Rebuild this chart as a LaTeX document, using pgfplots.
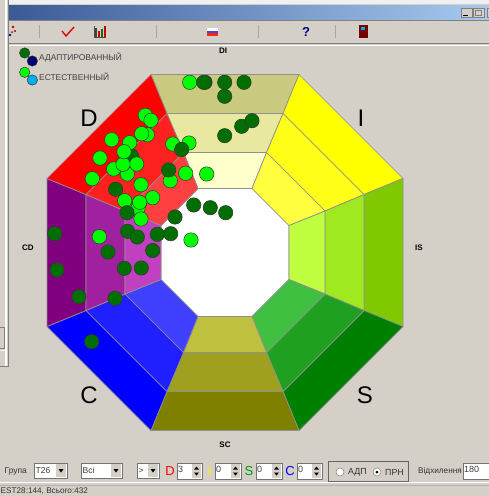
\documentclass[border=0pt]{standalone}
\usepackage{pgfplots}
\pgfplotsset{compat=1.18}
\usepackage{fontspec}
\setmainfont{Liberation Sans}
\definecolor{win}{HTML}{D4D0C8}
\definecolor{edge}{HTML}{909090}
\definecolor{dk}{HTML}{006E00}
\definecolor{br}{HTML}{00FF00}
\definecolor{tbA}{HTML}{3A5A96}
\definecolor{tbB}{HTML}{A6CAF0}
\definecolor{aO}{HTML}{C9C97F}\definecolor{aM}{HTML}{E8E8A0}\definecolor{aI}{HTML}{FFFFCC}
\definecolor{bO}{HTML}{FFFF00}\definecolor{bM}{HTML}{FFFF18}\definecolor{bI}{HTML}{FFFF40}
\definecolor{cO}{HTML}{80C800}\definecolor{cM}{HTML}{A0E820}\definecolor{cI}{HTML}{BFFF40}
\definecolor{dO}{HTML}{008000}\definecolor{dM}{HTML}{20A020}\definecolor{dI}{HTML}{40C040}
\definecolor{eO}{HTML}{808000}\definecolor{eM}{HTML}{A0A020}\definecolor{eI}{HTML}{C0C040}
\definecolor{fO}{HTML}{0000FF}\definecolor{fM}{HTML}{2020FF}\definecolor{fI}{HTML}{4040FF}
\definecolor{gO}{HTML}{800080}\definecolor{gM}{HTML}{A020A0}\definecolor{gI}{HTML}{C040C0}
\definecolor{hO}{HTML}{FF0000}\definecolor{hM}{HTML}{FF2020}\definecolor{hI}{HTML}{FF4040}
\newcommand\cell[2]{\addplot[fill=#1,draw=edge,line width=0.7pt] coordinates {#2} -- cycle;}
\newcommand\fs[1]{\fontsize{#1}{#1}\selectfont}
\newcommand\ctrl[5]{%
  \fill[white] (axis cs:#1,#2) rectangle (axis cs:#3,#4);
  \draw[black!55,line width=0.8pt] (axis cs:#1,#2) rectangle (axis cs:#3,#4);
  \node[anchor=west,inner sep=0pt,text=black!75] at (axis cs:#1+1.5,#2+7.5) {\fs{8.6}#5};
  \fill[win] (axis cs:#3-11,#2+1) rectangle (axis cs:#3-1,#4-1);
  \fill[black] (axis cs:#3-8.5,#2+6) -- (axis cs:#3-3.5,#2+6) -- (axis cs:#3-6,#2+9.5) -- cycle;
}
\newcommand\spin[5]{%
  \fill[white] (axis cs:#1,#2) rectangle (axis cs:#3,#4);
  \draw[black!55,line width=0.8pt] (axis cs:#1,#2) rectangle (axis cs:#3,#4);
  \node[anchor=west,inner sep=0pt,text=black!75] at (axis cs:#1+1,#2+6) {\fs{9}#5};
  \fill[win] (axis cs:#3-10,#2+1) rectangle (axis cs:#3-1,#4-1);
  \fill[black] (axis cs:#3-8,#2+6.5) -- (axis cs:#3-3,#2+6.5) -- (axis cs:#3-5.5,#2+3.5) -- cycle;
  \fill[black] (axis cs:#3-8,#2+9.5) -- (axis cs:#3-3,#2+9.5) -- (axis cs:#3-5.5,#2+12.5) -- cycle;
}
\begin{document}
\begin{tikzpicture}
\begin{axis}[width=489pt,height=496pt,scale only axis,xmin=0,xmax=489,ymin=0,ymax=496,y dir=reverse,axis lines=none,clip=true,
  mk/.style={only marks,mark=*,mark size=7.2pt,mark options={draw=black!80,line width=0.5pt,fill=#1}}]
% window chrome
\fill[win] (axis cs:0,0) rectangle (axis cs:489,496);
\fill[white!94!black] (axis cs:8,0) rectangle (axis cs:489,4);
\fill[left color=tbA,right color=tbB] (axis cs:8,5) rectangle (axis cs:489,19);
\draw[gray,line width=0.8pt] (axis cs:8,20) -- (axis cs:489,20);
\draw[gray,line width=0.8pt] (axis cs:8,43) -- (axis cs:489,43);
\draw[white,line width=0.7pt] (axis cs:8,45) -- (axis cs:489,45);
\draw[gray!70,line width=0.7pt] (axis cs:39,25) -- (axis cs:39,38);
\draw[gray!70,line width=0.7pt] (axis cs:156,25) -- (axis cs:156,38);
\draw[gray!70,line width=0.7pt] (axis cs:258,25) -- (axis cs:258,38);
\draw[gray!70,line width=0.7pt] (axis cs:335,25) -- (axis cs:335,38);
% left panel
\draw[white,line width=1.4pt] (axis cs:6,0) -- (axis cs:6,366);
\draw[gray,line width=1pt] (axis cs:8.5,0) -- (axis cs:8.5,366) -- (axis cs:0,366);
\draw[gray,line width=0.7pt] (axis cs:0,327) -- (axis cs:4,327) -- (axis cs:4,348) -- (axis cs:0,348);
\draw[white,line width=0.7pt] (axis cs:0,350) -- (axis cs:6,350);
% window buttons
\fill[win] (axis cs:461,8) rectangle (axis cs:472,17);
\draw[gray,line width=0.6pt] (axis cs:461,8) rectangle (axis cs:472,17);
\fill[win] (axis cs:473,8) rectangle (axis cs:484,17);
\draw[gray,line width=0.6pt] (axis cs:473,8) rectangle (axis cs:484,17);
\fill[win] (axis cs:487,8) rectangle (axis cs:498,17);
\draw[gray,line width=0.6pt] (axis cs:487,8) rectangle (axis cs:498,17);
\draw[black,line width=1pt] (axis cs:463,15) -- (axis cs:468,15);
\draw[gray,line width=0.8pt] (axis cs:475.5,10) rectangle (axis cs:481.5,15.5);
% toolbar icons
\draw[red!90!black,line width=1.4pt] (axis cs:62,31) -- (axis cs:66,36) -- (axis cs:74,27);
\fill[red!70!black] (axis cs:13,27) circle[radius=1.3pt];
\fill[blue!70!black] (axis cs:10,35) circle[radius=1.3pt];
\fill[red!70!black] (axis cs:15,31) circle[radius=1.1pt];
\fill[red!70!black] (axis cs:12,32) circle[radius=1pt];
\fill[black!75] (axis cs:95,28) rectangle (axis cs:97,37);
\fill[red!80!black] (axis cs:98,31) rectangle (axis cs:100,37);
\fill[green!45!black] (axis cs:101,29) rectangle (axis cs:103,37);
\fill[red!80!black] (axis cs:104,26) rectangle (axis cs:105.5,37);
\draw[black!70,line width=0.6pt] (axis cs:94.5,26) -- (axis cs:94.5,37.5) -- (axis cs:106,37.5);
\fill[white] (axis cs:207,27.5) rectangle (axis cs:218,30.5);
\fill[blue!75!white] (axis cs:207,30.5) rectangle (axis cs:218,33);
\fill[red!85!yellow] (axis cs:207,33) rectangle (axis cs:218,36);
\node[inner sep=0pt,text=blue!50!black] at (axis cs:306,31.5) {\fs{13}\bfseries ?};
\fill[red!45!black] (axis cs:359,25) rectangle (axis cs:367.5,38);
\fill[cyan] (axis cs:361,27) rectangle (axis cs:365,30);
% octagon cells (pixel coordinates)
\cell{white}{(198,188.5)(252,188.5)(289,225.5)(289,279.5)(252,316.5)(198,316.5)(161,279.5)(161,225.5)}
% DI
\cell{aO}{(151,74.5)(299,74.5)(283,113.5)(167,113.5)}
\cell{aM}{(167,113.5)(283,113.5)(266.5,152.5)(183.5,152.5)}
\cell{aI}{(183.5,152.5)(266.5,152.5)(252,188.5)(198,188.5)}
% I
\cell{bO}{(299,74.5)(403,178.5)(364,194.5)(283,113.5)}
\cell{bM}{(283,113.5)(364,194.5)(325,211)(266.5,152.5)}
\cell{bI}{(266.5,152.5)(325,211)(289,225.5)(252,188.5)}
% IS
\cell{cO}{(403,178.5)(403,326.5)(364,310.5)(364,194.5)}
\cell{cM}{(364,194.5)(364,310.5)(325,294)(325,211)}
\cell{cI}{(325,211)(325,294)(289,279.5)(289,225.5)}
% S
\cell{dO}{(403,326.5)(299,430.5)(283,391.5)(364,310.5)}
\cell{dM}{(364,310.5)(283,391.5)(266.5,352.5)(325,294)}
\cell{dI}{(325,294)(266.5,352.5)(252,316.5)(289,279.5)}
% SC
\cell{eO}{(299,430.5)(151,430.5)(167,391.5)(283,391.5)}
\cell{eM}{(283,391.5)(167,391.5)(183.5,352.5)(266.5,352.5)}
\cell{eI}{(266.5,352.5)(183.5,352.5)(198,316.5)(252,316.5)}
% C
\cell{fO}{(151,430.5)(47,326.5)(86,310.5)(167,391.5)}
\cell{fM}{(167,391.5)(86,310.5)(125,294)(183.5,352.5)}
\cell{fI}{(183.5,352.5)(125,294)(161,279.5)(198,316.5)}
% CD
\cell{gO}{(47,326.5)(47,178.5)(86,194.5)(86,310.5)}
\cell{gM}{(86,310.5)(86,194.5)(125,211)(125,294)}
\cell{gI}{(125,294)(125,211)(161,225.5)(161,279.5)}
% D
\cell{hO}{(47,178.5)(151,74.5)(167,113.5)(86,194.5)}
\cell{hM}{(86,194.5)(167,113.5)(183.5,152.5)(125,211)}
\cell{hI}{(125,211)(183.5,152.5)(198,188.5)(161,225.5)}
% points: bright ones lying under dark ones
\addplot[mk=br] coordinates {(172.7,144)(189,143)(170.3,180.7)(124.7,200.7)(139.7,202.3)(138,208)(189.7,82.3)};
% dark points
\addplot[mk=dk] coordinates {(131.7,156)(181.7,149.5)(168.7,170)(115.7,189.3)(127,212.7)(193.7,205)(210.3,207.7)(225.7,212.7)(175,217)(170.7,233.7)(157.3,234.3)(127.7,231.3)(137.3,237)(152.7,250.5)(108,252)(54.7,233.7)(57,270)(124.3,268.3)(141.3,268)(79,296.7)(115,298.3)(91.7,341.7)(205,82.3)(203.7,82.3)(224.7,82.3)(224.7,96.3)(244,82.3)(224.7,135.7)(241.7,126.3)(252,120.7)};
% bright points on top
\addplot[mk=br] coordinates {(145.3,115.3)(151,120.3)(147.3,134.7)(141.7,133.7)(111.7,139.7)(129.7,142.7)(100,158)(113.7,169)(127.3,174)(136.7,164)(123,164.3)(124,151.7)(92.3,178.7)(141,184.7)(152.7,197.7)(139.7,202.3)(141,219)(185.7,173.3)(206.7,174)(191,240)(99.3,236.7)};
% legend marks
\addplot[only marks,mark=*,mark size=5.2pt,mark options={draw=black!80,line width=0.5pt,fill=dk}] coordinates {(24.7,53)};
\addplot[only marks,mark=*,mark size=5.2pt,mark options={draw=black!80,line width=0.5pt,fill=fO!45!black}] coordinates {(32.3,61)};
\addplot[only marks,mark=*,mark size=5.2pt,mark options={draw=black!80,line width=0.5pt,fill=br}] coordinates {(24.7,72.3)};
\addplot[only marks,mark=*,mark size=5.2pt,mark options={draw=black!80,line width=0.5pt,fill=cyan}] coordinates {(32.3,80)};
\node[anchor=west,inner sep=0pt,text=black!75] at (axis cs:39,57.5) {\fs{8.4}АДАПТИРОВАННЫЙ};
\node[anchor=west,inner sep=0pt,text=black!75] at (axis cs:39,76.5) {\fs{8.4}ЕСТЕСТВЕННЫЙ};
% sector labels
\node[inner sep=0pt] at (axis cs:223,51) {\fs{8}\bfseries DI};
\node[inner sep=0pt] at (axis cs:225,445) {\fs{8}\bfseries SC};
\node[inner sep=0pt] at (axis cs:28,248) {\fs{8}\bfseries CD};
\node[inner sep=0pt] at (axis cs:419,248) {\fs{8}\bfseries IS};
\node[inner sep=0pt] at (axis cs:89,118) {\fs{24}D};
\node[inner sep=0pt] at (axis cs:361,118) {\fs{24}I};
\node[inner sep=0pt] at (axis cs:89,395) {\fs{24}C};
\node[inner sep=0pt] at (axis cs:365,395) {\fs{24}S};
% bottom controls
\node[anchor=west,inner sep=0pt,text=black!80] at (axis cs:4.5,471) {\fs{8.4}Група};
\ctrl{34}{463}{67}{478}{T26}
\ctrl{81}{463}{122}{478}{Всі}
\ctrl{137}{463}{159}{478}{>}
\node[inner sep=0pt,text=red] at (axis cs:170,471) {\fs{13}D};
\spin{177}{463}{202}{479}{3}
\node[inner sep=0pt,text=yellow] at (axis cs:210,471) {\fs{13}I};
\spin{215}{463}{241}{479}{0}
\node[inner sep=0pt,text=green!60!black] at (axis cs:249,471) {\fs{13}S};
\spin{256}{463}{282}{479}{0}
\node[inner sep=0pt,text=blue] at (axis cs:290,471) {\fs{13}C};
\spin{297}{463}{322}{479}{0}
\draw[black!60,line width=0.9pt] (axis cs:328.5,461) rectangle (axis cs:408.5,481);
\fill[white] (axis cs:340,472) circle[radius=4pt];
\draw[gray,line width=0.5pt] (axis cs:340,472) circle[radius=4pt];
\node[anchor=west,inner sep=0pt,text=black!80] at (axis cs:348,472) {\fs{8.8}АДП};
\fill[white] (axis cs:377,472) circle[radius=4pt];
\draw[gray,line width=0.5pt] (axis cs:377,472) circle[radius=4pt];
\fill[black] (axis cs:377,472) circle[radius=1.5pt];
\node[anchor=west,inner sep=0pt,text=black!80] at (axis cs:385,472) {\fs{8.8}ПРН};
\node[anchor=west,inner sep=0pt,text=black!80] at (axis cs:418,471) {\fs{8.2}Відхилення};
\spin{463}{463}{500}{479}{180}
\draw[white,line width=0.8pt] (axis cs:0,482) -- (axis cs:489,482);
\draw[gray!60,line width=0.8pt] (axis cs:0,485) -- (axis cs:489,485);
\node[anchor=west,inner sep=0pt,text=black!80] at (axis cs:0.5,491.5) {\fs{8.2}EST28:144, Всього:432};
\end{axis}
\end{tikzpicture}
\end{document}
